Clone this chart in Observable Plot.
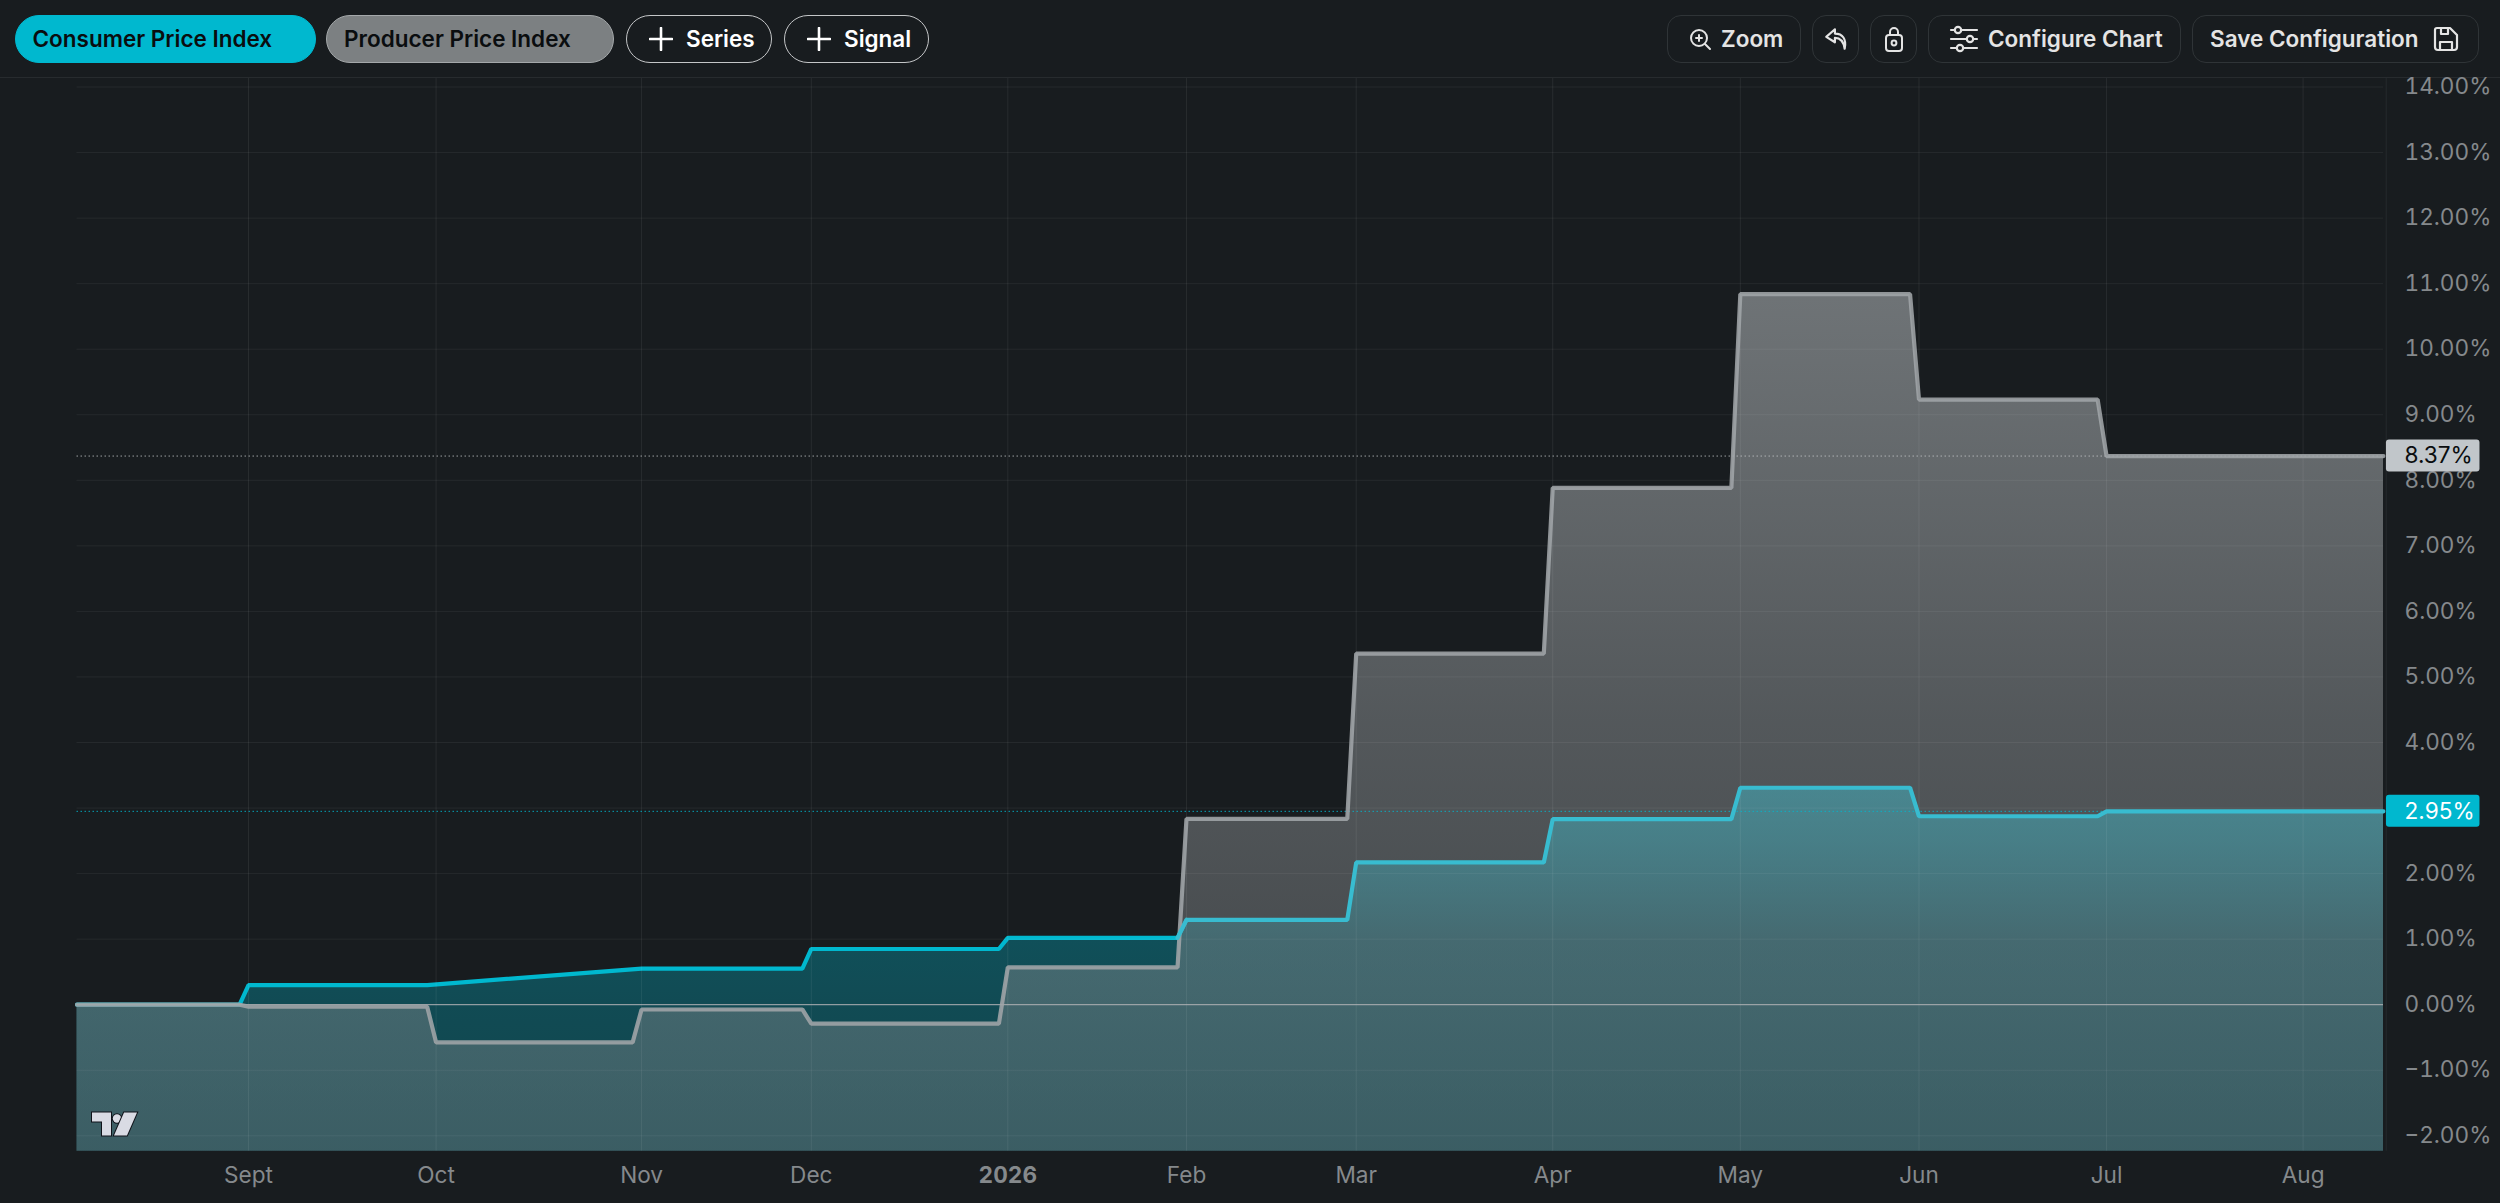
<!DOCTYPE html>
<html><head><meta charset="utf-8">
<script src="https://cdn.jsdelivr.net/npm/d3@7"></script>
<script src="https://cdn.jsdelivr.net/npm/@observablehq/plot@0.6"></script>
<style>
html,body{margin:0;padding:0;background:#181c1f;width:2500px;height:1203px;overflow:hidden;font-family:Inter,sans-serif}
#wrap{position:relative;width:2500px;height:1203px}
#bar{position:relative;height:78px;width:2500px;box-sizing:border-box;border-bottom:1px solid #272b2e}
.b{position:absolute;top:15px;height:48px;box-sizing:border-box;border-radius:14px;border:1.5px solid #2f3437;color:#e4e4e4;font-size:22.5px;font-weight:600}
.b span,.b svg{position:absolute}
.b span{top:50%;transform:translateY(-50%);white-space:nowrap;line-height:1}
.p{border-radius:24px}
.o{border-color:#c4c6c8;color:#fff;border-radius:24px}
svg.plot{display:block}
#logo{position:absolute;left:90px;top:1109px}
#chart{position:absolute;left:0;top:78px}
</style></head><body>
<div id="wrap">
<div id="bar">
 <div class="b p" style="left:15px;width:301px;background:#00b8cf;border-color:#00b8cf;color:#0a0d0f"><span style="left:16.5px">Consumer Price Index</span></div>
 <div class="b p" style="left:326px;width:288px;background:#7c8082;border-color:#a4a8aa;color:#0a0d0f"><span style="left:17px">Producer Price Index</span></div>
 <div class="b o" style="left:626px;width:146px"><svg style="left:22px;top:11px" width="24" height="24" viewBox="0 0 24 24"><path d="M12 1V23M1 12H23" stroke="#fff" stroke-width="2.6" stroke-linecap="round"/></svg><span style="left:59px">Series</span></div>
 <div class="b o" style="left:784px;width:145px"><svg style="left:22px;top:11px" width="24" height="24" viewBox="0 0 24 24"><path d="M12 1V23M1 12H23" stroke="#fff" stroke-width="2.6" stroke-linecap="round"/></svg><span style="left:59px">Signal</span></div>

 <div class="b" style="left:1667px;width:134px"><svg style="left:20px;top:11px" width="24" height="24" viewBox="0 0 24 24" fill="none" stroke="#e4e4e4" stroke-width="2"><circle cx="11" cy="11" r="8"/><path d="M17 17L22 22M11 8V14M8 11H14" stroke-linecap="round"/></svg><span style="left:53px">Zoom</span></div>
 <div class="b" style="left:1812px;width:47px"><svg style="left:10px;top:10px" width="26" height="26" viewBox="0 0 24 24" fill="none" stroke="#e4e4e4" stroke-width="2" stroke-linejoin="round" stroke-linecap="round"><path d="M11 3L3 10L11 15V11C16 11 19 14 20 21C22 12 18 7 11 7Z"/></svg></div>
 <div class="b" style="left:1870px;width:47px"><svg style="left:11px;top:9px" width="24" height="28" viewBox="0 0 24 28" fill="none" stroke="#e4e4e4" stroke-width="2"><rect x="4" y="10" width="16" height="16" rx="3"/><path d="M8 10V7A4 4 0 0 1 16 7V10"/><circle cx="12" cy="18" r="2.4"/></svg></div>
 <div class="b" style="left:1928px;width:253px"><svg style="left:20px;top:8px" width="30" height="30" viewBox="0 0 30 30" fill="none" stroke="#e4e4e4" stroke-width="2.2" stroke-linecap="round"><path d="M2 6H28M2 15H28M2 24H28" /><circle cx="9" cy="6" r="3.2" fill="#181c1f"/><circle cx="21" cy="15" r="3.2" fill="#181c1f"/><circle cx="11" cy="24" r="3.2" fill="#181c1f"/></svg><span style="left:59px">Configure Chart</span></div>
 <div class="b" style="left:2192px;width:287px"><span style="left:17px">Save Configuration</span><svg style="left:239px;top:9px" width="28" height="28" viewBox="0 0 28 28" fill="none" stroke="#e4e4e4" stroke-width="2.2" stroke-linejoin="round"><path d="M5 3H18L25 10V22A3 3 0 0 1 22 25H6A3 3 0 0 1 3 22V5A2 2 0 0 1 5 3Z"/><path d="M8 25V17H20V25M9 3V9H16V3"/></svg></div>
</div>
<div id="chart"></div>
<svg id="logo" width="50" height="29" viewBox="0 0 50 28"><g fill="#d9dbe4" stroke="#10131a" stroke-width="2" paint-order="stroke" stroke-linejoin="miter"><path d="M2 3H21V26H12V12H2Z"/><circle cx="27" cy="9" r="4.2"/><path d="M24 26L34 3H47L37 26Z"/></g></svg>
</div>
<script>
// Trading sessions counted from the first session of September 2025
const monthSessions = [0, 21, 44, 63, 85, 105, 124, 146, 167, 187, 208, 230];
const monthLabels = ["Sept", "Oct", "Nov", "Dec", "2026", "Feb", "Mar", "Apr", "May", "Jun", "Jul", "Aug"];
const yTicks = [-2, -1, 0, 1, 2, 3, 4, 5, 6, 7, 8, 9, 10, 11, 12, 13, 14];

const cpiSessions = [-19.2, -1, 0, 20, 44, 62, 63, 84, 85, 104, 105, 123, 124, 145, 146, 166, 167, 186, 187, 207, 208, 239];
const cpiValues = [0, 0, 0.30, 0.30, 0.55, 0.55, 0.85, 0.85, 1.02, 1.02, 1.295, 1.295, 2.17, 2.17, 2.83, 2.83, 3.31, 3.31, 2.875, 2.875, 2.95, 2.95];

const ppiSessions = [-19.2, -1, 0, 20, 21, 43, 44, 62, 63, 84, 85, 104, 105, 123, 124, 145, 146, 166, 167, 186, 187, 207, 208, 239];
const ppiValues = [0, 0, -0.03, -0.03, -0.575, -0.575, -0.073, -0.073, -0.29, -0.29, 0.57, 0.57, 2.835, 2.835, 5.355, 5.355, 7.885, 7.885, 10.84, 10.84, 9.23, 9.23, 8.37, 8.37];

const cpi = cpiSessions.map((x, i) => ({x, y: cpiValues[i]}));
const ppi = ppiSessions.map((x, i) => ({x, y: ppiValues[i]}));
const yMin = -2.235, yMax = 14.13, xMin = -19.2, xMax = 239;
const CYAN = "#00b8cf", AXIS = "#85898c";
const fmt = d => (d < 0 ? "\u2212" : "") + Math.abs(d).toFixed(2) + "%";

function gradient(id, stops, color) {
  return () => {
    const defs = d3.create("svg:defs");
    const g = defs.append("linearGradient").attr("id", id).attr("x1", 0).attr("x2", 0).attr("y1", 0).attr("y2", 1);
    stops.forEach(([o, a]) => g.append("stop").attr("offset", o).attr("stop-color", color).attr("stop-opacity", a));
    return defs.node();
  };
}

const plot = Plot.plot({
  width: 2500, height: 1125,
  marginLeft: 76.5, marginRight: 117, marginTop: 0, marginBottom: 52.3,
  x: {type: "linear", domain: [xMin, xMax]},
  y: {type: "linear", domain: [yMin, yMax]},
  style: {background: "transparent", fontFamily: "Inter, sans-serif", fontSize: "22.6px", overflow: "visible"},
  marks: [
    gradient("gc", [[0, .66], [.15, .56], [.42, .33], [.6, .3], [1, .26]], "#00b8cf"),
    gradient("gp", [[0, .8], [.5, .55], [.8, .44], [1, .36]], "#84898c"),
    Plot.areaY(cpi, {x: "x", y1: yMin, y2: "y", fill: "url(#gc)"}),
    Plot.line(cpi.filter(d => d.x <= 105), {x: "x", y: "y", stroke: CYAN, strokeWidth: 4.2, strokeLinejoin: "miter"}),
    Plot.areaY(ppi, {x: "x", y1: yMin, y2: "y", fill: "url(#gp)"}),
    Plot.gridY(yTicks, {stroke: "#fff", strokeOpacity: 0.06, strokeWidth: 1}),
    Plot.gridX(monthSessions, {stroke: "#fff", strokeOpacity: 0.07, strokeWidth: 1}),
    Plot.ruleY([0], {stroke: "#aeb1b3", strokeWidth: 1}),
    Plot.ruleY([8.37], {stroke: "#c8cbcd", strokeOpacity: .75, strokeWidth: 1, strokeDasharray: "1.5 2.5"}),
    Plot.ruleY([2.95], {stroke: CYAN, strokeOpacity: .85, strokeWidth: 1, strokeDasharray: "1.5 2.5"}),
    Plot.line(ppi, {x: "x", y: "y", stroke: "#a0a5a8", strokeOpacity: .88, strokeWidth: 4.2, strokeLinejoin: "miter"}),
    Plot.line(cpi.filter(d => d.x >= 104), {x: "x", y: "y", stroke: "#38bcd0", strokeWidth: 4.2, strokeLinejoin: "miter"}),
    Plot.ruleX([xMax], {x: () => xMax + 0.3, stroke: "#262a2d", strokeWidth: 1}),
    Plot.axisY(yTicks, {anchor: "right", tickSize: 0, tickPadding: 21, tickFormat: fmt, label: null, fill: AXIS}),
    Plot.axisX(monthSessions.filter((d, i) => monthLabels[i] !== "2026"), {anchor: "bottom", tickSize: 0, tickPadding: 16, label: null, fill: AXIS,
      tickFormat: d => monthLabels[monthSessions.indexOf(d)]}),
    Plot.axisX(monthSessions.filter((d, i) => monthLabels[i] === "2026"), {anchor: "bottom", tickSize: 0, tickPadding: 16, label: null, fill: AXIS, fontWeight: 700,
      tickFormat: d => monthLabels[monthSessions.indexOf(d)]}),
    Plot.rect([8.37], {x1: xMax + 0.33, x2: xMax + 10.8, y1: d => d - 0.244, y2: d => d + 0.244, fill: "#c1c6ca", rx: 3}),
    Plot.rect([2.95], {x1: xMax + 0.33, x2: xMax + 10.8, y1: d => d - 0.244, y2: d => d + 0.244, fill: CYAN, rx: 3}),
    Plot.text([8.37], {x: xMax, y: d => d, text: fmt, dx: 21, textAnchor: "start", fill: "#0a0d0f"}),
    Plot.text([2.95], {x: xMax, y: d => d, text: fmt, dx: 21, textAnchor: "start", fill: "#fff"})
  ]
});
document.getElementById("chart").append(plot);
</script>
</body></html>
